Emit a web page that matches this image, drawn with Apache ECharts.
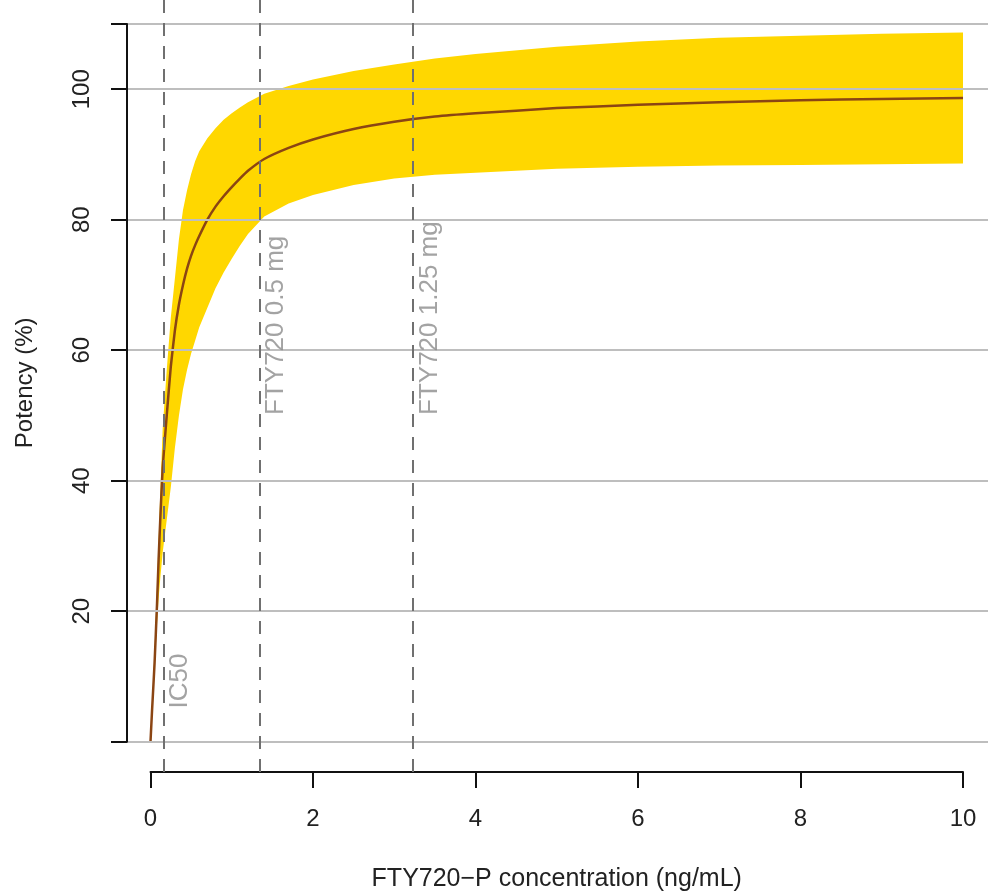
<!DOCTYPE html>
<html>
<head>
<meta charset="utf-8">
<title>FTY720-P concentration – potency</title>
<script src="https://cdn.jsdelivr.net/npm/echarts@6/dist/echarts.min.js"></script>
<style>
  html, body { margin: 0; padding: 0; background: #ffffff; }
  #chart { width: 988px; height: 894px; }
</style>
</head>
<body>
<div id="chart"></div>
<script>
// Concentration grid (ng/mL) with the model potency and its uncertainty band (%)
const concentration = [0, 0.02, 0.05, 0.08, 0.1, 0.12, 0.15, 0.2, 0.25, 0.3, 0.35, 0.4, 0.45, 0.5, 0.55, 0.6, 0.7, 0.8, 0.9, 1.0, 1.1, 1.2, 1.4, 1.7, 2, 2.5, 3, 3.5, 4, 5, 6, 7, 8, 9, 10];
const potency      = [0, 5, 12, 21, 28, 34, 42, 50, 57.5, 63, 67, 70, 72.5, 74.5, 76.1, 77.5, 80, 82, 83.6, 85, 86.3, 87.5, 89.3, 91.0, 92.3, 93.9, 95.0, 95.8, 96.3, 97.1, 97.6, 98.0, 98.3, 98.5, 98.65];
const upperBound   = [0, 6, 14, 24, 31, 38, 48, 57, 65, 71, 77, 81.5, 84.5, 87, 89, 90.5, 92.5, 94, 95.3, 96.3, 97.2, 98, 99.3, 100.5, 101.5, 102.8, 103.8, 104.7, 105.4, 106.5, 107.3, 107.9, 108.2, 108.5, 108.7];
const lowerBound   = [0, 4.5, 11, 18, 22, 25, 29, 34, 39, 45, 50, 54, 57, 59.5, 61.5, 63.5, 66.5, 69.5, 71.9, 74.0, 76.0, 77.8, 80.5, 82.5, 83.8, 85.3, 86.3, 86.9, 87.2, 87.8, 88.1, 88.3, 88.4, 88.5, 88.6];

// Reference concentrations marked with dashed lines
const refNames = ['IC50', 'FTY720 0.5 mg', 'FTY720 1.25 mg'];
const refConc  = [0.157, 1.34, 3.23];

// Axis ticks and labels
const xTickValues = [0, 2, 4, 6, 8, 10];
const yTickValues = [0, 20, 40, 60, 80, 100, 110];
const yLabelValues = [20, 40, 60, 80, 100];

// Potency at which each reference caption starts (captions run upward from here)
const refLabelStart = [5, 50, 50];

const FONT = 'Liberation Sans, Arial, Helvetica, sans-serif';
const chart = echarts.init(document.getElementById('chart'), null, { renderer: 'canvas' });

const curveData = concentration.map((c, i) => [c, potency[i]]);

const option = {
  backgroundColor: '#ffffff',
  animation: false,
  grid: [
    // plotting region
    { left: 127, right: 0, top: 0, height: 772 },
    // potency axis (0–110) and horizontal guide lines
    { left: 127, right: 0, top: 24, height: 717.7 },
    // concentration axis
    { left: 150.5, width: 812.5, top: 771, height: 1 }
  ],
  xAxis: [
    { gridIndex: 0, type: 'value', min: -0.2892, max: 10.3077, show: false },
    { gridIndex: 1, type: 'value', min: 0, max: 10, show: false },
    {
      gridIndex: 2, type: 'value', min: 0, max: 10, interval: 2,
      axisLine: { show: true, lineStyle: { color: '#111', width: 2 } },
      axisTick: { show: true, length: 16, inside: false, customValues: xTickValues, lineStyle: { color: '#111', width: 2 } },
      axisLabel: { show: true, margin: 35, customValues: xTickValues, fontSize: 24, color: '#222', fontFamily: FONT },
      splitLine: { show: false },
      name: 'FTY720\u2212P concentration (ng/mL)',
      nameLocation: 'middle',
      nameGap: 95,
      nameTextStyle: { fontSize: 25, color: '#222', fontFamily: FONT }
    }
  ],
  yAxis: [
    { gridIndex: 0, type: 'value', min: -4.644, max: 113.67, show: false },
    {
      gridIndex: 1, type: 'value', min: 0, max: 110, interval: 10, z: 3,
      axisLine: { show: true, lineStyle: { color: '#111', width: 2 } },
      axisTick: { show: true, length: 16, inside: false, customValues: yTickValues, lineStyle: { color: '#111', width: 2 } },
      axisLabel: { show: true, rotate: 90, margin: 33, customValues: yLabelValues, fontSize: 24, color: '#222', fontFamily: FONT },
      splitLine: { show: true, lineStyle: { color: '#bebebe', width: 2 } },
      name: 'Potency (%)',
      nameLocation: 'middle',
      nameRotate: 90,
      nameGap: 90,
      nameTextStyle: { fontSize: 24, color: '#222', fontFamily: FONT }
    },
    { gridIndex: 2, type: 'value', min: 0, max: 1, show: false }
  ],
  series: [
    {
      // uncertainty band drawn as one polygon: upper edge out, lower edge back
      type: 'custom',
      xAxisIndex: 0, yAxisIndex: 0,
      z: 1, silent: true,
      data: [[0, 0]],
      renderItem: function (params, api) {
        const pts = [];
        for (let i = 0; i < concentration.length; i++) {
          pts.push(api.coord([concentration[i], upperBound[i]]));
        }
        for (let i = concentration.length - 1; i >= 0; i--) {
          pts.push(api.coord([concentration[i], lowerBound[i]]));
        }
        return { type: 'polygon', shape: { points: pts }, style: { fill: '#ffd700', stroke: null } };
      }
    },
    {
      type: 'line',
      xAxisIndex: 0, yAxisIndex: 0,
      z: 2, silent: true,
      data: curveData,
      showSymbol: false,
      smooth: 0.15,
      lineStyle: { color: '#8b4513', width: 2.5, join: 'round' }
    },
    {
      // dashed reference lines with their rotated captions
      type: 'scatter',
      xAxisIndex: 0, yAxisIndex: 0,
      z: 4, silent: true,
      symbolSize: 1,
      itemStyle: { color: 'rgba(0,0,0,0)' },
      data: refConc.map((c, i) => ({ value: [c, refLabelStart[i]], name: refNames[i] })),
      label: {
        show: true,
        position: [4, 0],
        rotate: 90,
        align: 'left',
        verticalAlign: 'top',
        formatter: '{b}',
        fontSize: 26,
        color: '#8c8c8c',
        fontFamily: FONT
      },
      labelLayout: { hideOverlap: false },
      markLine: {
        silent: true,
        symbol: ['none', 'none'],
        label: { show: false },
        lineStyle: { color: '#707070', width: 2, type: [13, 10] },
        data: refConc.map(c => ({ xAxis: c }))
      }
    }
  ]
};

chart.setOption(option);
</script>
</body>
</html>
